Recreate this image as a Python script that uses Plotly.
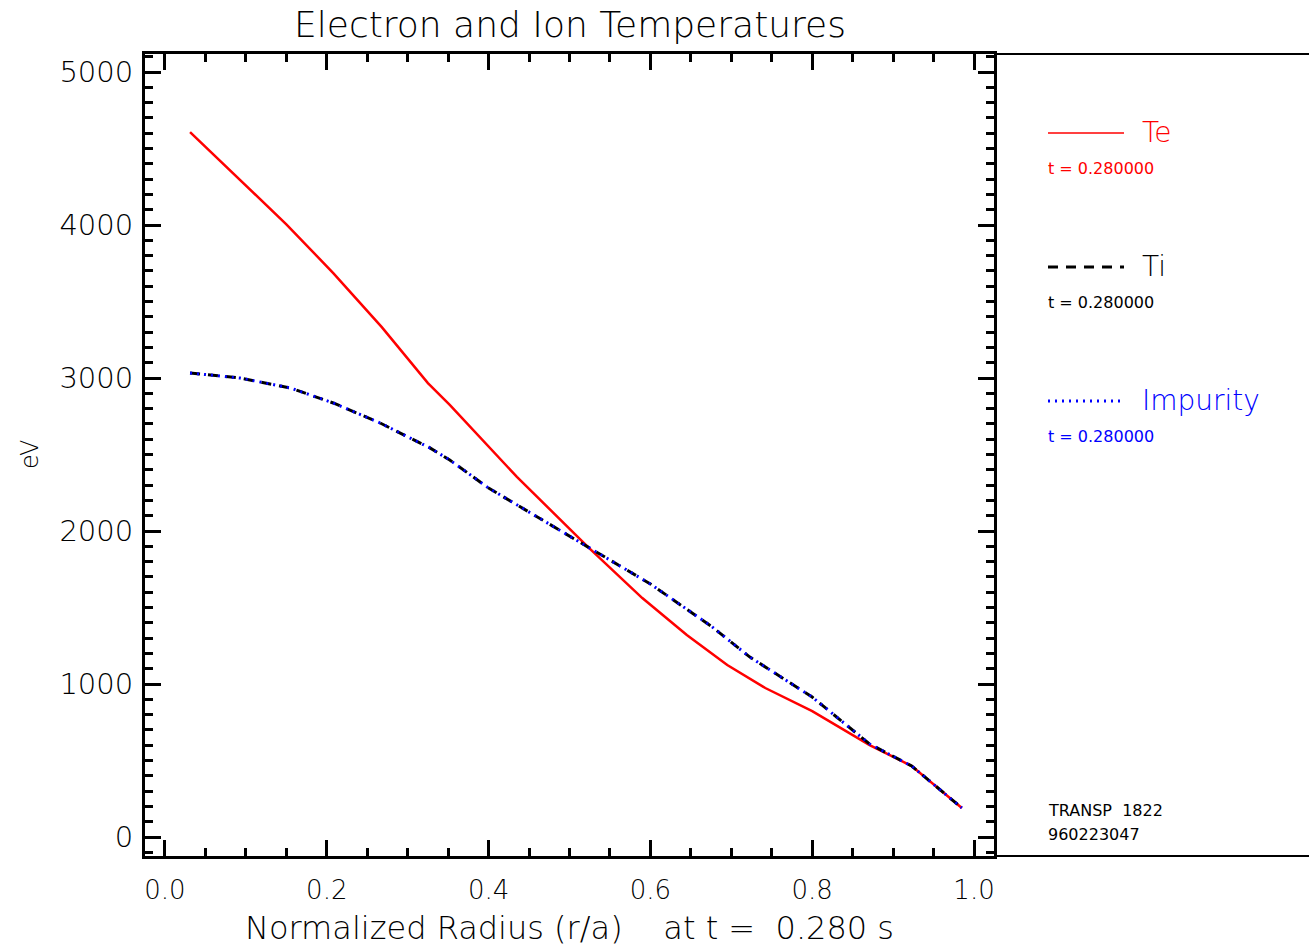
import plotly.graph_objects as go

# ---- data ----
rho_te = [0.031, 0.089, 0.150, 0.208, 0.268, 0.325, 0.352, 0.435, 0.476, 0.523,
          0.590, 0.645, 0.695, 0.742, 0.800, 0.871, 0.923, 0.985]
te = [4608, 4315, 4005, 3686, 3333, 2967, 2824, 2354, 2137, 1895,
      1562, 1320, 1124, 974, 823, 601, 464, 190]

rho_ti = [0.031, 0.093, 0.155, 0.208, 0.266, 0.328, 0.352, 0.400, 0.523,
          0.600, 0.676, 0.723, 0.800, 0.871, 0.923, 0.985]
ti = [3033, 3000, 2935, 2837, 2706, 2542, 2464, 2281, 1895,
      1654, 1375, 1176, 915, 608, 464, 190]
timp = ti[:]  # impurity temperature coincides with Ti

x_ticks = [0.0, 0.2, 0.4, 0.6, 0.8, 1.0]
x_ticklabels = ["0.0", "0.2", "0.4", "0.6", "0.8", "1.0"]
y_ticks = [0, 1000, 2000, 3000, 4000, 5000]
y_ticklabels = ["0", "1000", "2000", "3000", "4000", "5000"]

title_text = "Electron and Ion Temperatures"
xlabel = "Normalized Radius (r/a)    at t =  0.280 s"
ylabel = "eV"
legend_names = ["Te", "Ti", "Impurity"]
legend_times = ["t = 0.280000", "t = 0.280000", "t = 0.280000"]
footer = ["TRANSP  1822", "960223047"]

# ---- layout geometry ----
W, H = 1309, 947
L, R, T, B = 145, 994, 54, 856
FONT = "DejaVu Sans"


def px(x):
    return (x - L) / (R - L)


def py(y):
    return (B - y) / (B - T)


def f(size, color="black", weight=300):
    return dict(family=FONT, size=size, color=color, weight=weight)


fig = go.Figure()
fig.add_trace(go.Scatter(x=rho_te, y=te, mode="lines", name="Te",
                         line=dict(color="#ff0000", width=2.5)))
fig.add_trace(go.Scatter(x=rho_ti, y=ti, mode="lines", name="Ti",
                         line=dict(color="#000000", width=3, dash="10px,8px")))
fig.add_trace(go.Scatter(x=rho_ti, y=timp, mode="lines", name="Impurity",
                         line=dict(color="#0000ff", width=3, dash="2px,5px")))

axis_common = dict(
    showgrid=False, zeroline=False, showline=True, linecolor="black", linewidth=3,
    mirror="allticks", ticks="inside", ticklen=16, tickwidth=2.5, tickcolor="black",
)

fig.update_xaxes(range=[-0.0247, 1.0247], tickvals=x_ticks, ticktext=x_ticklabels,
                 minor=dict(dtick=0.05, ticks="inside", ticklen=8, tickwidth=2.5,
                            tickcolor="black", showgrid=False),
                 tickfont=f(26), ticklabelstandoff=9, **axis_common)
fig.update_yaxes(range=[-124, 5118], tickvals=y_ticks, ticktext=y_ticklabels,
                 minor=dict(dtick=100, ticks="inside", ticklen=8, tickwidth=2.5,
                            tickcolor="black", showgrid=False),
                 tickfont=f(29), ticklabelstandoff=3, **axis_common)

shapes = [
    dict(type="line", xref="paper", yref="paper", x0=1, x1=px(W + 5), y0=1, y1=1,
         line=dict(color="black", width=2)),
    dict(type="line", xref="paper", yref="paper", x0=1, x1=px(W + 5), y0=0, y1=0,
         line=dict(color="black", width=2)),
]
annotations = [
    dict(text=title_text, x=0.5, y=py(25), xref="paper", yref="paper",
         showarrow=False, font=f(36), xanchor="center", yanchor="middle"),
    dict(text=xlabel, x=0.5, y=py(928), xref="paper", yref="paper",
         showarrow=False, font=f(32), xanchor="center", yanchor="middle"),
    dict(text=ylabel, x=px(30), y=py(455), xref="paper", yref="paper",
         showarrow=False, textangle=-90, font=f(24), xanchor="center", yanchor="middle"),
]

leg_colors = ["#ff0000", "#000000", "#0000ff"]
leg_dash = ["solid", "10px,8px", "2px,5px"]
leg_y = [133, 267, 401]
for name, tt, col, dsh, yy in zip(legend_names, legend_times, leg_colors, leg_dash, leg_y):
    shapes.append(dict(type="line", xref="paper", yref="paper",
                       x0=px(1048), x1=px(1124), y0=py(yy), y1=py(yy),
                       line=dict(color=col, width=1.5 if dsh == "solid" else 3, dash=dsh)))
    annotations.append(dict(text=name, x=px(1140), y=py(yy - 1), xref="paper", yref="paper",
                            showarrow=False, xanchor="left", yanchor="middle", font=f(28, col)))
    annotations.append(dict(text=tt, x=px(1046), y=py(yy + 35), xref="paper", yref="paper",
                            showarrow=False, xanchor="left", yanchor="middle",
                            font=f(16, col, "normal")))

for i, line in enumerate(footer):
    annotations.append(dict(text=line, x=px(1046), y=py(810 + 24 * i), xref="paper",
                            yref="paper", showarrow=False, xanchor="left", yanchor="middle",
                            font=f(16, "black", "normal")))

fig.update_layout(
    width=W, height=H, autosize=False,
    margin=dict(l=L, r=W - R, t=T, b=H - B, pad=0),
    paper_bgcolor="white", plot_bgcolor="white",
    showlegend=False, shapes=shapes, annotations=annotations,
)

fig.write_html("out.html")
